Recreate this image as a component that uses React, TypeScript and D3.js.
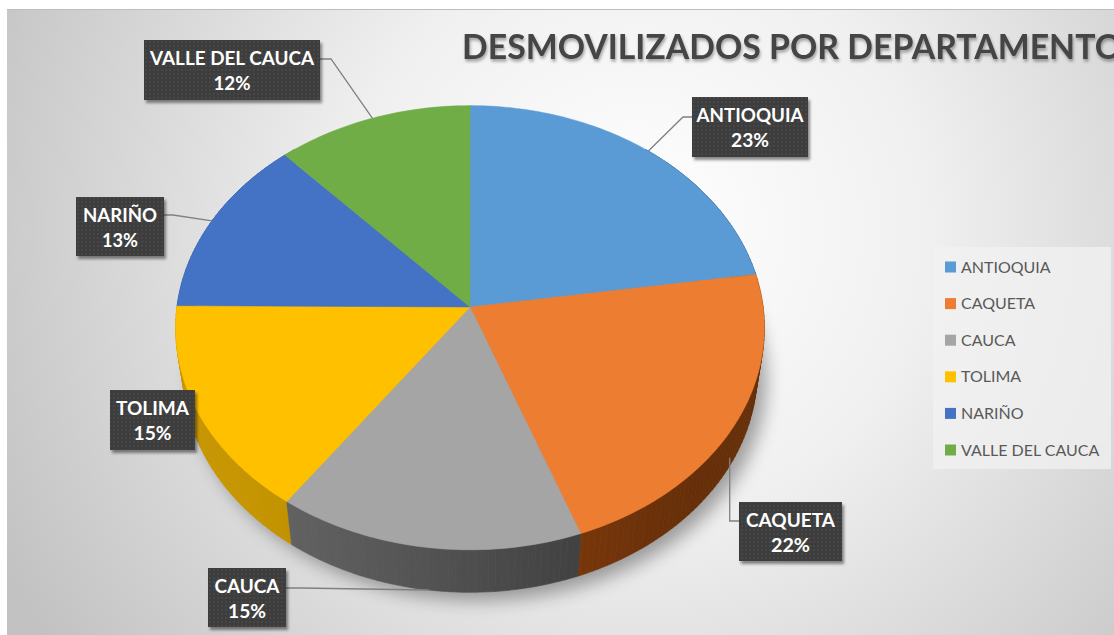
import React from 'react';
import * as d3 from 'd3';

const names = ['ANTIOQUIA', 'CAQUETA', 'CAUCA', 'TOLIMA', 'NARIÑO', 'VALLE DEL CAUCA'];
const values = [22.6, 21.8, 15.4, 15.3, 13.1, 11.8];
const colors = ['#5B9BD5', '#ED7D31', '#A5A5A5', '#FFC000', '#4472C4', '#70AD47'];
const title = 'DESMOVILIZADOS POR DEPARTAMENTO';

const W = 1114, H = 635;
// projection of a tilted disc
const cx = 470, cy = 307;
const alpha = 0.85;
const sa = Math.sin(alpha), ca = Math.cos(alpha);
const d0 = 7.07, f = 2072, thick = 0.236;

function proj(t: number, lvl: number): [number, number] {
  const x = Math.sin(t), z = -Math.cos(t), y = lvl;
  const Y = z * sa - y * ca;
  const D = d0 - z * ca - y * sa;
  return [cx + (f * x) / D, cy + (f * Y) / D];
}

function sideLight(t: number) {
  const deg = (t * 180) / Math.PI;
  let s = (deg - 130) / 100;
  s = Math.max(0, Math.min(1, s));
  s = s * s * (3 - 2 * s);
  return 0.22 + 0.17 * s;
}

// label layout (box position, name width, leader path style)
const layout: Record<string, any> = {
  'ANTIOQUIA': { x: 692, y: 97, w: 116, h: 60, nw: 107, pw: 38, lead: 'left', ey: 117, elbow: 683, lvl: 0 },
  'CAQUETA': { x: 739, y: 502, w: 103, h: 59, nw: 89, pw: 39, lead: 'caq', ey: 521, lvl: -0.75 },
  'CAUCA': { x: 208, y: 568, w: 78, h: 59, nw: 65, pw: 38, lead: 'right', ey: 588, elbow: 300, lvl: -1 },
  'TOLIMA': { x: 110, y: 390, w: 85, h: 60, nw: 73, pw: 38, lead: 'none' },
  'NARIÑO': { x: 76, y: 197, w: 88, h: 59, nw: 74, pw: 36, lead: 'right', ey: 215, elbow: 173, lvl: 0 },
  'VALLE DEL CAUCA': { x: 144, y: 40, w: 176, h: 60, nw: 164, pw: 37, lead: 'right', ey: 59, elbow: 331, lvl: 0 },
};

export default function App() {
  const total = d3.sum(values);
  const pie = d3.pie<number>().sort(null).startAngle(0).endAngle(2 * Math.PI);
  const arcs = pie(values);

  const arcPts = (a0: number, a1: number, lvl: number) => {
    const n = Math.max(2, Math.ceil(((a1 - a0) * 180) / Math.PI));
    return d3.range(n + 1).map((i) => proj(a0 + ((a1 - a0) * i) / n, lvl));
  };
  const line = d3.line();

  // side quads
  const quads: { d: string; z: number; c: string }[] = [];
  arcs.forEach((a, i) => {
    const step = (1.2 * Math.PI) / 180;
    const lo = Math.max(a.startAngle, (40 * Math.PI) / 180);
    const hi = Math.min(a.endAngle, (320 * Math.PI) / 180);
    for (let t = lo; t < hi; t += step) {
      const t2 = Math.min(hi, t + step);
      const p = [proj(t, 0), proj(t2, 0), proj(t2, -thick), proj(t, -thick)];
      const hsl = d3.hsl(colors[i]);
      hsl.l = sideLight((t + t2) / 2);
      quads.push({ d: line(p as any) + 'Z', z: -Math.cos((t + t2) / 2), c: hsl.formatHex() });
    }
  });
  quads.sort((a, b) => a.z - b.z);

  const shadowPath = line(arcPts(0, 2 * Math.PI, -thick) as any) + 'Z';

  return (
    <svg width={W} height={H} style={{ position: 'absolute', left: 0, top: 0, display: 'block' }}
      fontFamily="Lato, 'Open Sans', sans-serif">
      <defs>
        <radialGradient id="bg" gradientUnits="userSpaceOnUse" cx={640} cy={230} r={720}>
          <stop offset="0" stopColor="#ffffff" />
          <stop offset="0.4" stopColor="#f0f0f0" />
          <stop offset="1" stopColor="#c2c2c2" />
        </radialGradient>
        <pattern id="dots" width="4" height="4" patternUnits="userSpaceOnUse">
          <rect width="4" height="4" fill="#3c3c3c" />
          <circle cx="2" cy="2" r="0.75" fill="#565656" />
        </pattern>
        <filter id="blur" x="-20%" y="-20%" width="140%" height="140%">
          <feGaussianBlur stdDeviation="9" />
        </filter>
        <filter id="boxsh" x="-20%" y="-20%" width="150%" height="150%">
          <feDropShadow dx="2" dy="3" stdDeviation="1.5" floodColor="#000" floodOpacity="0.45" />
        </filter>
        <filter id="titlesh" x="-5%" y="-30%" width="110%" height="170%">
          <feDropShadow dx="1" dy="2.5" stdDeviation="1.5" floodColor="#000" floodOpacity="0.35" />
        </filter>
      </defs>
      <rect x={0} y={0} width={W} height={H} fill="#ffffff" />
      <rect x={7} y={9} width={W - 7} height={H - 9} fill="url(#bg)" />
      <line x1={7} x2={W} y1={9.5} y2={9.5} stroke="#bdbdbd" strokeWidth={1} />

      <text x={462} y={59} fontSize={35} fontWeight={700} fill="#444444" textLength={660}
        lengthAdjust="spacingAndGlyphs" filter="url(#titlesh)">{title}</text>

      {/* shadow */}
      <path d={shadowPath} transform="translate(9,8)" fill="#000" opacity={0.35} filter="url(#blur)" />

      {/* sides */}
      <g>
        {quads.map((q, k) => (
          <path key={k} d={q.d} fill={q.c} stroke={q.c} strokeWidth={0.6} />
        ))}
      </g>

      {/* top faces */}
      <g>
        {arcs.map((a, i) => {
          const pts = [[cx, cy], ...arcPts(a.startAngle, a.endAngle, 0)];
          return <path key={i} d={line(pts as any) + 'Z'} fill={colors[i]} stroke={colors[i]} strokeWidth={0.5} />;
        })}
      </g>

      {/* leader lines */}
      <g fill="none" stroke="#808080" strokeWidth={1.3}>
        {arcs.map((a, i) => {
          const L = layout[names[i]];
          if (L.lead === 'none') return null;
          const mid = (a.startAngle + a.endAngle) / 2;
          const e = proj(mid, L.lvl * thick);
          let pts: [number, number][];
          if (L.lead === 'right') pts = [[L.x + L.w, L.ey], [L.elbow, L.ey], e];
          else if (L.lead === 'left') pts = [[L.x, L.ey], [L.elbow, L.ey], e];
          else pts = [[L.x, L.ey], [e[0], L.ey], e];
          return <path key={i} d={line(pts) as string} />;
        })}
      </g>

      {/* labels */}
      <g>
        {arcs.map((a, i) => {
          const L = layout[names[i]];
          const mx = L.x + L.w / 2;
          const pct = Math.round((values[i] / total) * 100) + '%';
          return (
            <g key={i}>
              <rect x={L.x} y={L.y} width={L.w} height={L.h} fill="url(#dots)" filter="url(#boxsh)" />
              <text x={mx} y={L.y + 25} textAnchor="middle" fill="#ffffff" fontSize={18} fontWeight={700}
                textLength={L.nw} lengthAdjust="spacingAndGlyphs">{names[i]}</text>
              <text x={mx} y={L.y + 50} textAnchor="middle" fill="#ffffff" fontSize={18} fontWeight={700}
                textLength={L.pw} lengthAdjust="spacingAndGlyphs">{pct}</text>
            </g>
          );
        })}
      </g>

      {/* legend */}
      <g>
        <rect x={933} y={247} width={178} height={222} fill="#f2f2f2" opacity={0.75} />
        {names.map((n, i) => {
          const yc = 267 + i * 36.6;
          return (
            <g key={n}>
              <rect x={945} y={yc - 5.5} width={11} height={11} fill={colors[i]} />
              <text x={961} y={yc + 5.5} fontSize={16} fill="#595959">{n}</text>
            </g>
          );
        })}
      </g>
    </svg>
  );
}
